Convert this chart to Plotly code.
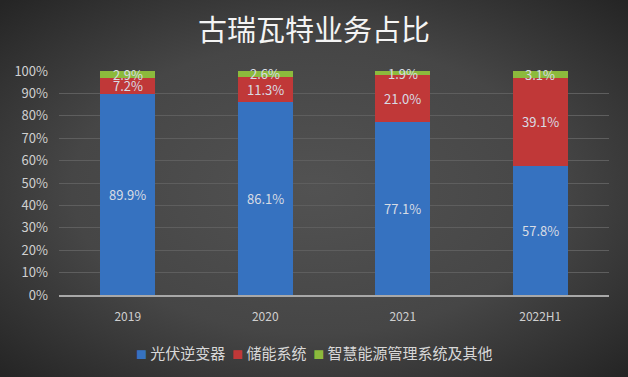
import base64
import plotly.graph_objects as go

categories = ["2019", "2020", "2021", "2022H1"]
pv_inverter = [89.9, 86.1, 77.1, 57.8]
storage = [7.2, 11.3, 21.0, 39.1]
smart_energy = [2.9, 2.6, 1.9, 3.1]
series_names = ["光伏逆变器", "储能系统", "智慧能源管理系统及其他"]
y_ticks = [0, 10, 20, 30, 40, 50, 60, 70, 80, 90, 100]

W, H = 628, 377
ml, mr, mt, mb = 59, 19, 71, 82
pw, ph = W - ml - mr, H - mt - mb

svg = f'''<svg xmlns="http://www.w3.org/2000/svg" width="{W}" height="{H}" viewBox="0 0 {W} {H}" preserveAspectRatio="none">
<defs><radialGradient id="g" cx="50%" cy="50%" r="70%">
<stop offset="0%" stop-color="#525252"/><stop offset="55%" stop-color="#464646"/><stop offset="100%" stop-color="#252525"/>
</radialGradient></defs><rect width="{W}" height="{H}" fill="url(#g)"/></svg>'''
src = "data:image/svg+xml;base64," + base64.b64encode(svg.encode()).decode()

font = "Noto Sans CJK SC, Noto Sans, sans-serif"
colors = ["#3672c0", "#c03838", "#8cba3c"]
series = [pv_inverter, storage, smart_energy]

fig = go.Figure()
for name, vals, c in zip(series_names, series, colors):
    fig.add_trace(go.Bar(
        x=categories, y=vals, name=name,
        marker=dict(color=c, line=dict(width=0)),
        hoverinfo="x+y+name",
    ))

# data labels centred in each segment (x given as category index)
annotations = []
base = [0.0] * len(categories)
for vals in series:
    for i, v in enumerate(vals):
        annotations.append(dict(
            x=i, y=base[i] + v / 2, xref="x", yref="y",
            text=f"{v:.1f}%", showarrow=False,
            font=dict(size=13, color="#d8dce4", family=font),
        ))
        base[i] += v

# compact legend (square swatches + names) as one centred text line
nb = "\u00a0"
legend_text = (nb * 2).join(
    f'<span style="color:{c};font-size:11px">■</span>{nb}{name}'
    for name, c in zip(series_names, colors)
)
annotations.append(dict(
    x=(314 - ml) / pw, y=(mt + ph - 352) / ph, xref="paper", yref="paper",
    xanchor="center", yanchor="middle", showarrow=False,
    text=legend_text, font=dict(size=15, color="#d8d8d8", family=font),
))

fig.update_layout(
    width=W, height=H,
    barmode="stack", bargap=0.6, showlegend=False,
    paper_bgcolor="#3a3a3a", plot_bgcolor="rgba(0,0,0,0)",
    margin=dict(l=ml, r=mr, t=mt, b=mb, autoexpand=False),
    title=dict(text="古瑞瓦特业务占比", x=0.5, xanchor="center", y=0.918, yanchor="middle",
               font=dict(size=29, color="#f4f4f4", family=font)),
    font=dict(family=font, color="#d0d0d0"),
    xaxis=dict(type="category", categoryorder="array", categoryarray=categories,
               range=[-0.5, len(categories) - 0.5],
               showgrid=False, tickfont=dict(size=12, color="#cfcfcf"), ticks="",
               ticklabelstandoff=10,
               showline=True, linecolor="#a8a8a8", linewidth=2),
    yaxis=dict(range=[0, 100], tickvals=y_ticks, ticktext=[f"{t}%" for t in y_ticks],
               tickfont=dict(size=13, color="#d0d0d0"), ticklabelstandoff=10,
               gridcolor="#5e5e5e", gridwidth=1, zeroline=False, showline=False, ticks=""),
    annotations=annotations,
    images=[dict(source=src, xref="paper", yref="paper",
                 x=-ml / pw, y=1 + mt / ph, sizex=W / pw, sizey=H / ph,
                 xanchor="left", yanchor="top", sizing="stretch", layer="below")],
)

fig.write_html("out.html", config={"displayModeBar": False},
               post_script="document.body.style.margin='0';")
